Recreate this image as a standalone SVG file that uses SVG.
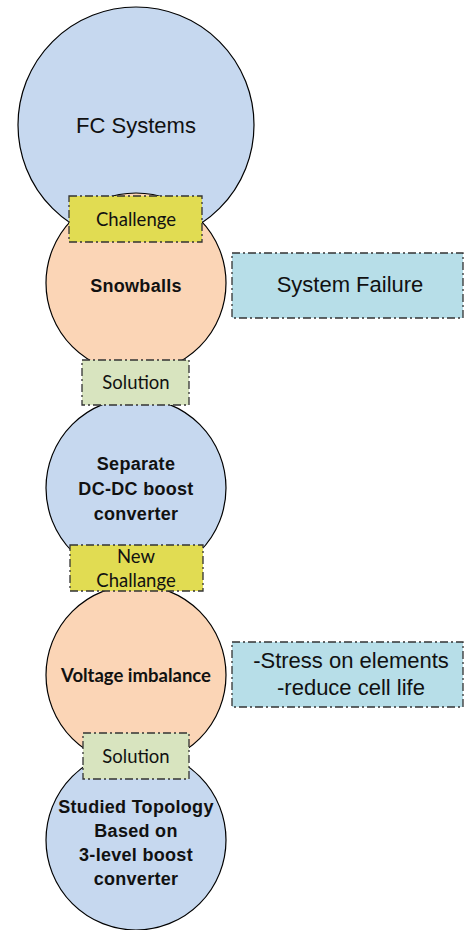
<svg xmlns="http://www.w3.org/2000/svg" width="465" height="930" viewBox="0 0 465 930">
<style>
.c{stroke:#000;stroke-width:1.2}
.blue{fill:#c6d8ef}
.org{fill:#fbd5b6}
.lbl{stroke:#333;stroke-width:1.3;stroke-dasharray:8,3,2,3}
.yel{fill:#e1dc52}
.grn{fill:#d8e4bf}
.cyan{fill:#b7dee8}
.t{font-family:"Liberation Sans",Arial,sans-serif;fill:#111;text-anchor:middle;dominant-baseline:central}
.b{font-weight:bold;font-size:18px;letter-spacing:0.3px}
.l{font-family:Lato,"Open Sans",sans-serif;fill:#111;text-anchor:middle;dominant-baseline:central;font-size:18.5px}
</style>
<rect width="465" height="930" fill="#fff"/>
<g id="fc"><circle class="c blue" cx="136" cy="125" r="118"/><text class="t" x="136" y="125" font-size="22">FC Systems</text></g>
<g id="snowballs"><circle class="c org" cx="136" cy="283" r="90"/><text class="t b" x="136" y="286">Snowballs</text></g>
<g id="separate"><circle class="c blue" cx="136" cy="488" r="90"/><text class="t b" x="136" y="464">Separate</text><text class="t b" x="136" y="489">DC-DC boost</text><text class="t b" x="136" y="514">converter</text></g>
<g id="voltage"><circle class="c org" cx="136" cy="675" r="90"/><text class="l" x="136" y="675" font-weight="bold" font-size="19.3">Voltage imbalance</text></g>
<g id="studied"><circle class="c blue" cx="136" cy="840" r="90"/><text class="t b" x="136" y="807">Studied Topology</text><text class="t b" x="136" y="831">Based on</text><text class="t b" x="136" y="855">3-level boost</text><text class="t b" x="136" y="879">converter</text></g>
<g id="challenge"><rect class="lbl yel" x="69" y="196" width="133" height="46"/><text class="l" x="136" y="219">Challenge</text></g>
<g id="solution1"><rect class="lbl grn" x="82" y="360" width="107" height="45"/><text class="l" x="136" y="382">Solution</text></g>
<g id="newchallange"><rect class="lbl yel" x="70" y="545" width="133" height="46"/><text class="l" x="136" y="556">New</text><text class="l" x="136" y="580">Challange</text></g>
<g id="solution2"><rect class="lbl grn" x="83" y="733" width="106" height="46"/><text class="l" x="136" y="756">Solution</text></g>
<g id="failure"><rect class="lbl cyan" x="232" y="253" width="231" height="65"/><text class="t" x="350" y="284" font-size="22">System Failure</text></g>
<g id="stress"><rect class="lbl cyan" x="232" y="642" width="231" height="65"/><text class="t" x="351" y="660" font-size="22">-Stress on elements</text><text class="t" x="351" y="687" font-size="22">-reduce cell life</text></g>
<g id="connectors"></g>
</svg>
